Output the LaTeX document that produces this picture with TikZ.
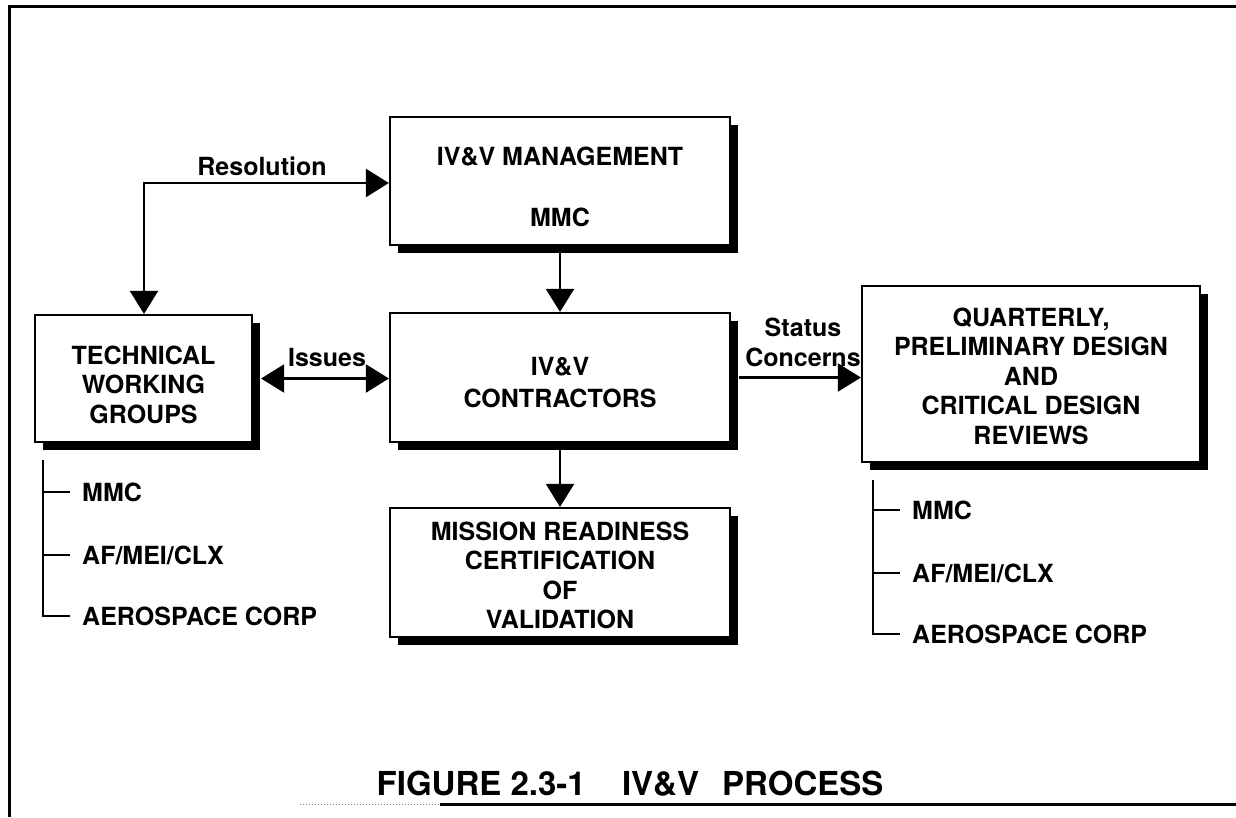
\documentclass[tikz,border=0pt]{standalone}
\usepackage{fontspec}
\setmainfont{TeX Gyre Heros}
\usetikzlibrary{arrows.meta,shadows}

\begin{document}
\begin{tikzpicture}[x=1pt,y=-1pt,
  every node/.style={font=\bfseries\fontsize{25}{29.5}\selectfont},
  box/.style={draw, line width=2.2pt, fill=white, inner sep=0pt,
    drop shadow={shadow xshift=8pt, shadow yshift=-8pt, fill=black, opacity=1}},
  arr/.style={line width=2.2pt, -{Triangle[length=23pt,width=28pt]}},
  dbl/.style={line width=2.2pt, {Triangle[length=23pt,width=28pt]}-{Triangle[length=23pt,width=28pt]}},
  tree/.style={line width=2pt},
  item/.style={anchor=west, inner sep=0pt, text height=18pt, text depth=0pt},
  lbl/.style={inner sep=0pt, align=center}]

\useasboundingbox (0,0) rectangle (1236,817);

% frame
\draw[line width=3pt] (9,817) -- (9,6) -- (1240,6);
\draw[line width=1pt, gray, dotted] (300,804) -- (440,804);
\draw[line width=3pt] (440,804) -- (1240,804);

% boxes
\node[box, minimum width=340pt, minimum height=128pt] (mgmt) at (560,181) {};
\node[box, minimum width=340pt, minimum height=129pt] (contr) at (560,377.5) {};
\node[box, minimum width=340pt, minimum height=129pt] (mission) at (560,572.5) {};
\node[box, minimum width=217pt, minimum height=127pt] (twg) at (143.5,378.5) {};
\node[box, minimum width=338pt, minimum height=176pt] (qdr) at (1031,374) {};

% box texts
\node[lbl] (mgmt-t) at ([yshift=-6pt]mgmt.center) {IV\&V MANAGEMENT\\[32pt]MMC};
\node[lbl] (contr-t) at ([yshift=-5pt]contr.center) {IV\&V\\[2.5pt]CONTRACTORS};
\node[lbl] (mission-t) at ([yshift=-3pt]mission.center)
  {MISSION READINESS\\CERTIFICATION\\OF\\VALIDATION};
\node[lbl] (twg-t) at ([yshift=-6pt]twg.center) {TECHNICAL\\WORKING\\GROUPS};
\node[lbl] (qdr-t) at ([yshift=-2pt]qdr.center)
  {QUARTERLY,\\PRELIMINARY DESIGN\\AND\\CRITICAL DESIGN\\REVIEWS};

% connectors
\coordinate (resc) at (144,183);
\draw[dbl] (resc |- twg.north) |- (mgmt.west |- resc);
\node[lbl] (reslbl) at (262,166) {Resolution};

\draw[arr] (mgmt.south) -- (contr.north);
\draw[arr] (contr.south) -- (mission.north);

\draw[dbl] ([xshift=8pt]twg.east) -- (twg.east -| contr.west);
\node[lbl] (isslbl) at (327,357) {Issues};

\draw[arr] ([xshift=8pt]contr.east) -- (contr.east -| qdr.west);
\node[lbl] (stlbl) at (803,342) {Status\\[0.5pt]Concerns};

% participants of the working groups
\node[item] (l1) at (82,492) {MMC};
\node[item] (l2) at (82,555) {AF/MEI/CLX};
\node[item] (l3) at (82,616) {AEROSPACE CORP};
\coordinate (lt) at (43,460);
\draw[tree] (lt) |- ([xshift=-12pt]l3.west);
\draw[tree] (lt |- l1.west) -- ([xshift=-12pt]l1.west);
\draw[tree] (lt |- l2.west) -- ([xshift=-12pt]l2.west);

% participants of the reviews
\node[item] (r1) at (912,510) {MMC};
\node[item] (r2) at (912,573) {AF/MEI/CLX};
\node[item] (r3) at (912,634) {AEROSPACE CORP};
\coordinate (rt) at (873,480);
\draw[tree] (rt) |- ([xshift=-12pt]r3.west);
\draw[tree] (rt |- r1.west) -- ([xshift=-12pt]r1.west);
\draw[tree] (rt |- r2.west) -- ([xshift=-12pt]r2.west);

% caption
\node[inner sep=0pt, font=\bfseries\fontsize{33}{36}\selectfont] (cap) at (630,784)
  {FIGURE 2.3-1\hspace{1.1em}IV\&V\hspace{0.7em}PROCESS};
\end{tikzpicture}
\end{document}
